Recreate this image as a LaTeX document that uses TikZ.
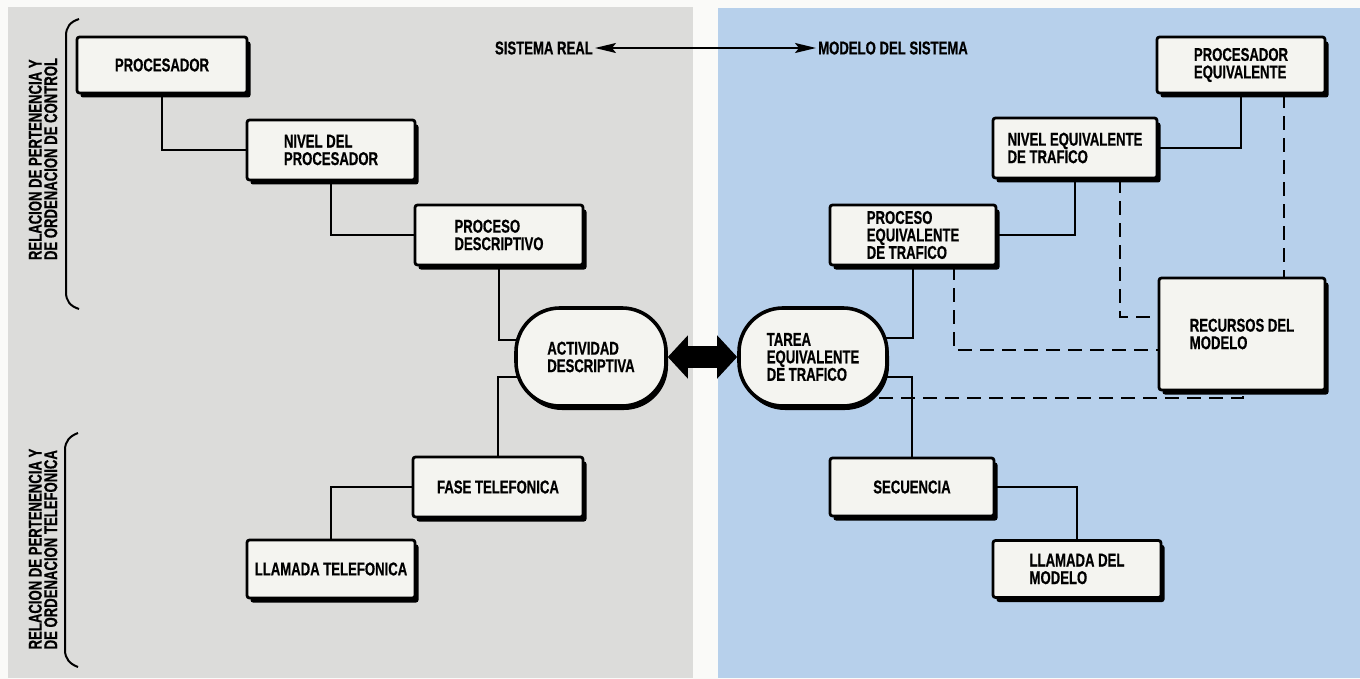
\documentclass[tikz,border=0pt]{standalone}
\usepackage{fontspec}
\setmainfont{Liberation Sans}[FakeStretch=0.71, BoldFeatures={FakeBold=0.6}]
\usetikzlibrary{arrows.meta,shadows,calc}

\pgfdeclarelayer{panels}
\pgfdeclarelayer{links}
\pgfsetlayers{panels,links,main}

\definecolor{panelgray}{RGB}{220,220,218}
\definecolor{panelblue}{RGB}{183,208,235}
\definecolor{boxfill}{RGB}{244,244,240}
\definecolor{pagebg}{RGB}{250,250,248}

\tikzset{
  lbl/.style={font=\fontsize{18.5}{17.5}\selectfont\bfseries, align=left, inner sep=2pt},
  vlbl/.style={font=\fontsize{18.5}{15.5}\selectfont\bfseries, align=left, inner sep=0pt, rotate=90},
  blk/.style={lbl, draw=black, line width=2.8pt, fill=boxfill, rounded corners=2.5pt,
    drop shadow={shadow xshift=3.5pt, shadow yshift=-4.5pt, opacity=1, fill=black}},
  pill/.style={lbl, draw=black, line width=3.6pt, fill=boxfill, rounded corners=44pt,
    minimum width=150pt, minimum height=98pt,
    drop shadow={shadow xshift=2pt, shadow yshift=-4pt, opacity=1, fill=black}},
  link/.style={line width=2.2pt},
  dlink/.style={line width=2.2pt, dash pattern=on 14pt off 8pt},
  brace/.style={line width=2pt},
}

\begin{document}
\begin{tikzpicture}[x=1pt, y=-1pt]
\useasboundingbox (0,0) rectangle (1360,679);

% page and the two panels
\begin{pgfonlayer}{panels}
  \fill[pagebg] (0,0) rectangle (1360,679);
  \fill[panelgray] (8,7) rectangle (693,678);
  \fill[panelblue] (718,8) rectangle (1360,678);
\end{pgfonlayer}

% side labels with their brackets
\node[vlbl] (vt1) at (43,159) {RELACION DE PERTENENCIA Y\\DE ORDENACION DE CONTROL};
\node[vlbl] (vt2) at (43,549) {RELACION DE PERTENENCIA Y\\DE ORDENACION TELEFONICA};
\draw[brace] (79,19) .. controls (70,22) and (66,27) .. (66,36) -- (66,292)
  .. controls (66,301) and (70,306) .. (79,309);
\draw[brace] (78,433) .. controls (70,436) and (65,441) .. (65,450) -- (65,650)
  .. controls (65,659) and (70,664) .. (78,667);

% headings
\node[lbl, anchor=east] (sr) at (595,48) {SISTEMA REAL};
\node[lbl, anchor=west] (ms) at (816,48) {MODELO DEL SISTEMA};
\draw[line width=1.8pt, {Stealth[length=21pt,width=10pt,inset=4pt]}-{Stealth[length=21pt,width=10pt,inset=4pt]}]
  (sr.east) -- (ms.west);

% real system
\node[blk, minimum width=170pt, minimum height=56pt] (proc) at (162,65) {PROCESADOR};
\node[blk, minimum width=168pt, minimum height=60pt] (nivel) at (331,150) {NIVEL DEL\\PROCESADOR};
\node[blk, minimum width=168pt, minimum height=60pt] (pdesc) at (499,235) {PROCESO\\DESCRIPTIVO};
\node[pill] (act) at (591,357) {ACTIVIDAD\\DESCRIPTIVA};
\node[blk, minimum width=170pt, minimum height=60pt] (fase) at (498,487) {FASE TELEFONICA};
\node[blk, minimum width=168pt, minimum height=58pt] (llt) at (331,569) {LLAMADA TELEFONICA};

% system model
\node[pill, minimum width=148pt] (tar) at (813,357) {TAREA\\EQUIVALENTE\\DE TRAFICO};
\node[blk, minimum width=166pt, minimum height=60pt] (peq) at (913,235) {PROCESO\\EQUIVALENTE\\DE TRAFICO};
\node[blk, minimum width=164pt, minimum height=60pt] (neq) at (1075,148) {NIVEL EQUIVALENTE\\DE TRAFICO};
\node[blk, minimum width=168pt, minimum height=56pt] (preq) at (1241,65) {PROCESADOR\\EQUIVALENTE};
\node[blk, minimum width=166pt, minimum height=112pt] (rec) at (1242,334) {RECURSOS DEL\\MODELO};
\node[blk, minimum width=164pt, minimum height=58pt] (sec) at (912,487) {SECUENCIA};
\node[blk, minimum width=168pt, minimum height=57pt] (lm) at (1077,569) {LLAMADA DEL\\MODELO};

\begin{pgfonlayer}{links}
  % real system hierarchy
  \draw[link] (proc.south) |- (nivel.west);
  \draw[link] (nivel.south) |- (pdesc.west);
  \draw[link] (pdesc.south) |- ([yshift=17pt]act.center);
  \draw[link] ([yshift=-20pt]act.center) -| (fase.north);
  \draw[link] (fase.west) -| (llt.north);
  % model hierarchy
  \draw[link] ([yshift=19pt]tar.center) -| (peq.south);
  \draw[link] (peq.east) -| (neq.south);
  \draw[link] (neq.east) -| (preq.south);
  \draw[link] ([yshift=-20pt]tar.center) -| (sec.north);
  \draw[link] (sec.east) -| (lm.north);
  % resource links
  \draw[dlink] ([xshift=41pt]peq.south) |- ([yshift=-16pt]rec.west);
  \draw[dlink] ([xshift=45pt]neq.south) |- ([yshift=17pt]rec.west);
  \draw[dlink] ([xshift=43pt]preq.south) -- ([xshift=42pt]rec.north);
  \draw[dlink] ([yshift=-41pt]tar.center) -| ([xshift=1pt]rec.south);
  % correspondence between activity and task
  \draw[line width=22pt, {Triangle[length=20pt,width=42pt]}-{Triangle[length=20pt,width=42pt]}]
    (act.east) -- (tar.west);
\end{pgfonlayer}
\end{tikzpicture}
\end{document}
